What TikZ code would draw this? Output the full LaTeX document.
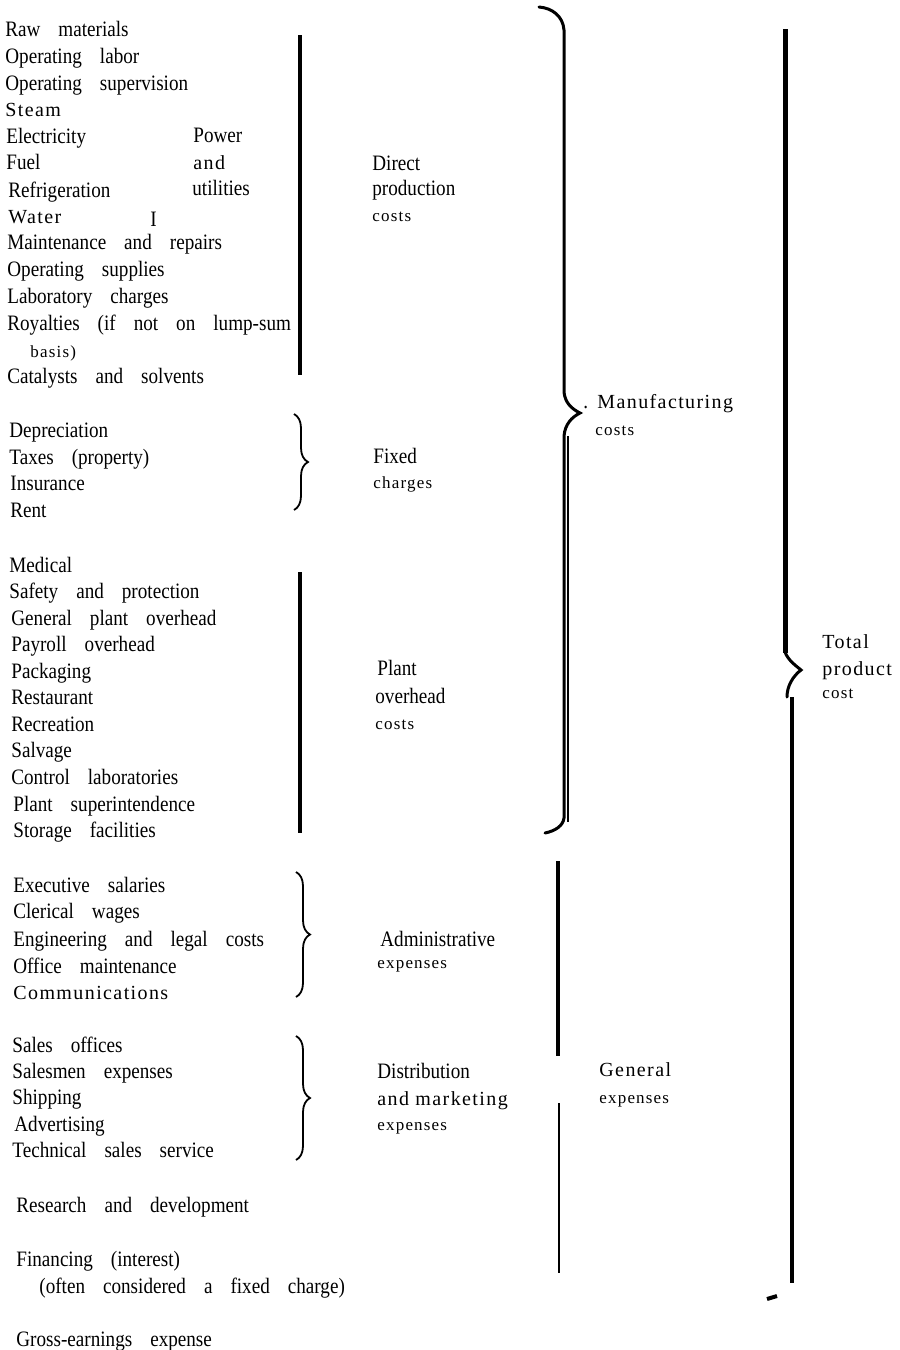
\documentclass[tikz,border=0pt]{standalone}
\usepackage{fontspec}
\setmainfont{Liberation Serif}
\newfontfamily\itemface[FakeStretch=0.87]{Liberation Serif}
\newfontfamily\spacedface[LetterSpace=7]{Liberation Serif}
\newcommand\itemfont{\itemface\fontsize{11}{13}\selectfont\spaceskip=9pt plus 2pt\relax}
\newcommand\widefont{\spacedface\fontsize{10}{12}\selectfont}
\newcommand\notefont{\spacedface\fontsize{8.5}{10}\selectfont}
\usetikzlibrary{decorations.pathreplacing}

\begin{document}
\begin{tikzpicture}[x=0.5pt, y=-0.5pt,
  item/.style={anchor=base west, inner sep=0pt, font=\itemfont},
  wide/.style={anchor=base west, inner sep=0pt, font=\widefont},
  note/.style={anchor=base west, inner sep=0pt, font=\notefont},
  bar/.style={line width=1.7pt},
  curly/.style={decorate, decoration={brace, amplitude=7pt}, line width=0.9pt},
  bigcurly/.style={line width=1.5pt, line cap=round},
]
  \useasboundingbox (0,0) rectangle (900,1350);

  % direct production costs
  \node[item] (raw) at (5,36) {Raw materials};
  \node[item] (oplabor) at (5,63) {Operating labor};
  \node[item] (opsuper) at (5,90) {Operating supervision};
  \node[wide] (steam) at (5,116) {Steam};
  \node[item] (elec) at (6,143) {Electricity};
  \node[item] (power) at (193,142) {Power};
  \node[item] (fuel) at (6,169) {Fuel};
  \node[wide] (powand) at (193,169) {and};
  \node[item] (refrig) at (8,197) {Refrigeration};
  \node[item] (util) at (192,195) {utilities};
  \node[wide] (water) at (8,223) {Water};
  \node[item] (bigI) at (150,226) {I};
  \node[item] (maint) at (7,249) {Maintenance and repairs};
  \node[item] (opsupply) at (7,276) {Operating supplies};
  \node[item] (labchg) at (7,303) {Laboratory charges};
  \node[item] (royal) at (7,330) {Royalties (if not on lump-sum};
  \node[note] (basis) at (30,357) {basis)};
  \node[item] (catal) at (7,383) {Catalysts and solvents};
  \draw[bar] (300,35) -- (300,375);
  \node[item] (direct) at (372,170) {Direct};
  \node[item] (prod) at (372,195) {production};
  \node[note] (dcosts) at (372,221) {costs};

  % fixed charges
  \node[item] (deprec) at (9,437) {Depreciation};
  \node[item] (taxes) at (9,464) {Taxes (property)};
  \node[item] (insur) at (10,490) {Insurance};
  \node[item] (rent) at (10,517) {Rent};
  \draw[curly] (294,414) -- (294,510);
  \node[item] (fixed) at (373,463) {Fixed};
  \node[note] (charges) at (373,488) {charges};

  % plant overhead costs
  \node[item] (medical) at (9,572) {Medical};
  \node[item] (safety) at (9,598) {Safety and protection};
  \node[item] (genplant) at (11,625) {General plant overhead};
  \node[item] (payroll) at (11,651) {Payroll overhead};
  \node[item] (pack) at (11,678) {Packaging};
  \node[item] (rest) at (11,704) {Restaurant};
  \node[item] (recr) at (11,731) {Recreation};
  \node[item] (salv) at (11,757) {Salvage};
  \node[item] (ctrl) at (11,784) {Control laboratories};
  \node[item] (super) at (13,811) {Plant superintendence};
  \node[item] (stor) at (13,837) {Storage facilities};
  \draw[bar] (300,572) -- (300,833);
  \node[item] (plant) at (377,675) {Plant};
  \node[item] (ovh) at (375,703) {overhead};
  \node[note] (pcosts) at (375,729) {costs};

  % manufacturing costs
  \draw[bigcurly] (539,7) .. controls (552,8) and (563,16) .. (564,30)
    -- (564,392) .. controls (565,403) and (572,409) .. (580,413)
    .. controls (572,417) and (565,424) .. (564,436)
    -- (564,818) .. controls (563,826) and (555,831) .. (545,833);
  \draw[line width=0.6pt] (568,436) -- (568,822);
  \node[item] (dot) at (583,408) {.};
  \node[wide] (manuf) at (597,408) {Manufacturing};
  \node[note] (mcosts) at (595,435) {costs};

  % administrative expenses
  \node[item] (exec) at (13,892) {Executive salaries};
  \node[item] (cler) at (13,918) {Clerical wages};
  \node[item] (eng) at (13,946) {Engineering and legal costs};
  \node[item] (office) at (13,973) {Office maintenance};
  \node[wide] (comm) at (13,999) {Communications};
  \draw[curly] (296,872) -- (296,997);
  \node[item] (admin) at (380,946) {Administrative};
  \node[note] (aexp) at (377,968) {expenses};

  % distribution and marketing expenses
  \node[item] (salesoff) at (12,1052) {Sales offices};
  \node[item] (salesmen) at (12,1078) {Salesmen expenses};
  \node[item] (ship) at (12,1104) {Shipping};
  \node[item] (advert) at (14,1131) {Advertising};
  \node[item] (tech) at (12,1157) {Technical sales service};
  \draw[curly] (296,1036) -- (296,1160);
  \node[item] (distr) at (377,1078) {Distribution};
  \node[wide] (market) at (377,1105) {and marketing};
  \node[note] (dexp) at (377,1130) {expenses};

  \node[item] (research) at (16,1212) {Research and development};
  \node[item] (financ) at (16,1266) {Financing (interest)};
  \node[item] (often) at (39,1293) {(often considered a fixed charge)};
  \node[item] (gross) at (16,1346) {Gross-earnings expense};

  % general expenses
  \draw[line width=2pt] (558,861) -- (558,1056);
  \draw[line width=1.2pt] (559,1103) -- (559,1273);
  \node[wide] (general) at (599,1076) {General};
  \node[note] (gexp) at (599,1103) {expenses};

  % total product cost
  \draw[line width=2.5pt] (785,29) -- (785,653);
  \draw[bigcurly] (785,652) .. controls (788,660) and (795,665) .. (801,670)
    .. controls (793,676) and (787,686) .. (787,697);
  \draw[line width=1.7pt] (792,697) -- (792,1283);
  \draw[line width=2pt] (767,1299) -- (777,1296);
  \node[wide] (total) at (822,648) {Total};
  \node[wide] (product) at (822,675) {product};
  \node[note] (tcost) at (822,698) {cost};
\end{tikzpicture}
\end{document}
